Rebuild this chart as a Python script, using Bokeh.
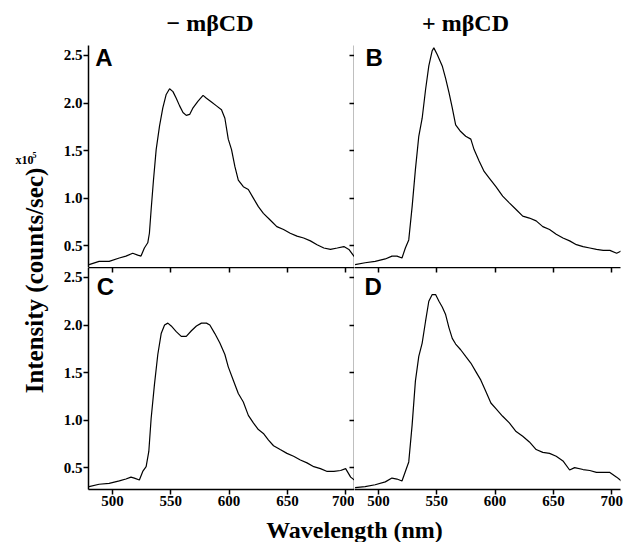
import math
from bokeh.plotting import figure
from bokeh.models import Range1d, LinearAxis, FixedTicker, Label
from bokeh.layouts import row, column
from bokeh.embed import file_html
from bokeh.resources import INLINE

# ---------------- data ----------------
wl_a = [480.0, 488.6, 497.2, 505.9, 511.6, 517.4, 521.7, 524.5, 527.4, 530.3, 531.7, 533.2, 535.2, 537.5,
        540.4, 543.2, 546.1, 549.0, 551.9, 554.7, 557.6, 560.5, 563.3, 566.2, 569.1, 573.4, 577.7, 580.6,
        584.9, 589.2, 593.5, 596.4, 599.3, 602.1, 605.0, 607.9, 612.2, 616.5, 620.8, 625.1, 629.4, 635.2,
        640.9, 646.7, 652.4, 658.2, 663.9, 669.7, 675.4, 681.2, 686.9, 692.7, 698.4, 702.7, 709.3]
int_a = [0.30, 0.335, 0.335, 0.37, 0.39, 0.42, 0.40, 0.39, 0.475, 0.53, 0.63, 0.88, 1.19, 1.51, 1.76,
         1.95, 2.09, 2.15, 2.12, 2.05, 1.97, 1.90, 1.87, 1.88, 1.95, 2.02, 2.08, 2.05, 2.01, 1.97, 1.93,
         1.84, 1.62, 1.51, 1.33, 1.19, 1.12, 1.09, 1.00, 0.91, 0.84, 0.77, 0.70, 0.67, 0.63, 0.60, 0.58,
         0.55, 0.51, 0.475, 0.46, 0.475, 0.49, 0.46, 0.35]

wl_b = [480.0, 488.6, 497.2, 505.9, 511.6, 515.9, 520.2, 523.1, 526.0, 528.9, 531.7, 534.6, 537.5, 540.4,
        543.2, 546.1, 547.5, 550.4, 554.7, 557.6, 560.5, 563.3, 566.2, 570.5, 574.8, 579.2, 582.0, 586.3,
        590.6, 595.0, 600.7, 606.5, 612.2, 618.0, 623.7, 629.4, 635.2, 640.9, 646.7, 652.4, 658.2, 663.9,
        669.7, 675.4, 681.2, 686.9, 692.7, 698.4, 704.2, 709.3]
int_b = [0.30, 0.32, 0.335, 0.36, 0.39, 0.39, 0.37, 0.475, 0.56, 0.91, 1.30, 1.65, 1.84, 2.14, 2.39,
         2.55, 2.58, 2.51, 2.39, 2.26, 2.11, 1.95, 1.77, 1.70, 1.65, 1.62, 1.51, 1.39, 1.28, 1.21, 1.12,
         1.02, 0.95, 0.88, 0.81, 0.79, 0.76, 0.70, 0.67, 0.62, 0.58, 0.55, 0.51, 0.49, 0.475, 0.46, 0.45,
         0.45, 0.42, 0.45]

wl_c = [480.0, 488.6, 497.2, 505.9, 511.6, 515.9, 518.8, 523.1, 526.0, 528.9, 531.2, 533.2, 536.0, 538.9,
        541.8, 544.7, 547.5, 550.4, 554.7, 559.0, 563.3, 567.7, 572.0, 576.3, 580.6, 583.5, 587.8, 592.1,
        596.4, 599.3, 603.6, 607.9, 612.2, 616.5, 620.8, 625.1, 629.4, 633.8, 638.1, 643.8, 649.6, 655.3,
        661.1, 666.8, 672.6, 678.3, 684.1, 689.8, 695.6, 699.9, 704.2, 709.3]
int_c = [0.30, 0.325, 0.335, 0.36, 0.38, 0.40, 0.39, 0.37, 0.46, 0.51, 0.67, 1.02, 1.37, 1.69, 1.91,
         2.00, 2.02, 1.99, 1.93, 1.88, 1.88, 1.94, 1.99, 2.02, 2.02, 2.00, 1.91, 1.81, 1.69, 1.56, 1.42,
         1.28, 1.19, 1.05, 0.97, 0.90, 0.86, 0.79, 0.73, 0.69, 0.65, 0.62, 0.58, 0.55, 0.51, 0.49, 0.46,
         0.46, 0.47, 0.49, 0.40, 0.35]

wl_d = [480.0, 488.6, 497.2, 505.9, 511.6, 515.9, 520.2, 523.1, 526.0, 528.9, 531.7, 534.6, 537.5, 540.4,
        543.2, 546.1, 549.0, 551.9, 554.7, 557.6, 560.5, 563.3, 566.2, 570.5, 574.8, 579.2, 583.5, 587.8,
        592.1, 596.4, 600.7, 606.5, 612.2, 618.0, 623.7, 629.4, 635.2, 640.9, 646.7, 652.4, 658.2, 663.9,
        668.2, 675.4, 681.2, 686.9, 692.7, 698.4, 704.2, 709.3]
int_d = [0.29, 0.30, 0.32, 0.35, 0.39, 0.38, 0.36, 0.46, 0.56, 0.95, 1.41, 1.67, 1.81, 2.04, 2.25,
         2.32, 2.32, 2.25, 2.19, 2.11, 1.97, 1.86, 1.80, 1.74, 1.67, 1.60, 1.51, 1.42, 1.30, 1.18, 1.12,
         1.04, 0.97, 0.88, 0.83, 0.77, 0.69, 0.66, 0.65, 0.62, 0.57, 0.475, 0.50, 0.48, 0.47, 0.45, 0.45,
         0.45, 0.40, 0.35]

x_ticks = [500, 550, 600, 650, 700]
x_tick_labels = ["500", "550", "600", "650", "700"]
y_ticks = [0.5, 1.0, 1.5, 2.0, 2.5]
y_tick_labels = ["0.5", "1.0", "1.5", "2.0", "2.5"]

title_left = "\u2212 m\u03b2CD"
title_right = "+ m\u03b2CD"
y_title = "Intensity (counts/sec)"
x_title = "Wavelength (nm)"

# ---------------- styling ----------------
SERIF = "Liberation Serif"
SANS = "Liberation Sans"
X_RANGE = (479.5, 707.5)
Y_RANGE = (0.27, 2.605)
FW, FH = 266, 222
PAGE_W, PAGE_H = 631, 544


def make_axis(kind, labels, tin, tout):
    ticks = x_ticks if kind == "x" else y_ticks
    names = x_tick_labels if kind == "x" else y_tick_labels
    ax = LinearAxis(ticker=FixedTicker(ticks=ticks))
    ax.major_label_overrides = {t: n for t, n in zip(ticks, names)}
    ax.axis_line_color = "black"
    ax.axis_line_width = 1.5
    ax.major_tick_line_color = "black"
    ax.major_tick_line_width = 1.5
    ax.major_tick_in = tin
    ax.major_tick_out = tout
    ax.minor_tick_in = 0
    ax.minor_tick_out = 0
    ax.major_label_text_font = SERIF
    ax.major_label_text_font_style = "bold"
    if labels:
        ax.major_label_text_color = "black"
        ax.major_label_text_font_size = "15px"
        ax.major_label_standoff = 1
    else:
        ax.major_label_text_color = None
        ax.major_label_text_font_size = "1px"
        ax.major_label_standoff = 0
    return ax


def panel(wl, inten, letter, lx, ly, bl, br, bt, bb, axes):
    p = figure(frame_width=FW, frame_height=FH, x_range=Range1d(*X_RANGE), y_range=Range1d(*Y_RANGE),
               output_backend="svg", toolbar_location=None, x_axis_location=None, y_axis_location=None,
               min_border_left=bl, min_border_right=br, min_border_top=bt, min_border_bottom=bb)
    p.outline_line_color = None
    p.background_fill_color = "white"
    p.border_fill_color = "white"
    p.grid.visible = False
    for side, kind, labels, tin, tout in axes:
        p.add_layout(make_axis(kind, labels, tin, tout), side)
    p.line(wl, inten, line_color="black", line_width=1.2)
    p.add_layout(Label(x=lx, y=ly, text=letter, text_font=SANS, text_font_style="bold",
                       text_font_size="24px", text_color="black", text_align="left",
                       text_baseline="middle"))
    return p


pA = panel(wl_a, int_a, "A", 485.2, 2.484, 30, 0, 0, 0,
           [("left", "y", True, 0, 5), ("right", "y", False, 5, 0)])
pB = panel(wl_b, int_b, "B", 489.0, 2.475, 0, 8, 0, 0, [])
pC = panel(wl_c, int_c, "C", 486.6, 2.400, 30, 0, 0, 26,
           [("left", "y", True, 0, 5), ("right", "y", False, 5, 0),
            ("above", "x", False, 5, 0), ("below", "x", True, 0, 5)])
pD = panel(wl_d, int_d, "D", 488.1, 2.405, 0, 8, 0, 26,
           [("above", "x", False, 5, 0), ("below", "x", True, 0, 5)])


def blank(w, h):
    f = figure(frame_width=w, frame_height=h, x_range=Range1d(0, w), y_range=Range1d(0, h),
               output_backend="svg", toolbar_location=None, x_axis_location=None, y_axis_location=None,
               min_border=0)
    f.outline_line_color = None
    f.grid.visible = False
    f.background_fill_color = "white"
    f.border_fill_color = "white"
    return f


def text(f, x, y, s, size, font=SERIF, align="left", angle=0.0):
    f.add_layout(Label(x=x, y=y, text=s, angle=angle, text_font=font, text_font_style="bold",
                       text_font_size=size, text_color="black", text_align=align,
                       text_baseline="middle"))


# top strip with the two column titles (page y 0..45)
FT_H = 45
ft = blank(PAGE_W, FT_H)
text(ft, 209.5, FT_H - 22.5, title_left, "24px", align="center")
text(ft, 465.0, FT_H - 22.5, title_right, "24px", align="center")

# left strip with the y title (page x 0..58, page y 45..515)
FL_W, FL_H = 58, 470
fl = blank(FL_W, FL_H)
text(fl, 33.5, FL_H - (280 - FT_H), y_title, "25px", align="center", angle=math.pi / 2)
text(fl, 15, FL_H - (159 - FT_H), "x10", "12px")
text(fl, 32, FL_H - (154 - FT_H), "5", "8px")

# bottom strip with the x title (page y ~516..543)
FB_H = 27
fb = blank(PAGE_W - 2, FB_H)
text(fb, 354, 12.5, x_title, "24px", align="center")

grid = column(row(pA, pB, spacing=0), row(pC, pD, spacing=0), spacing=0)
layout = column(ft, row(fl, grid, spacing=0), fb, spacing=0)

open("out.html", "w").write(file_html(layout, INLINE))
